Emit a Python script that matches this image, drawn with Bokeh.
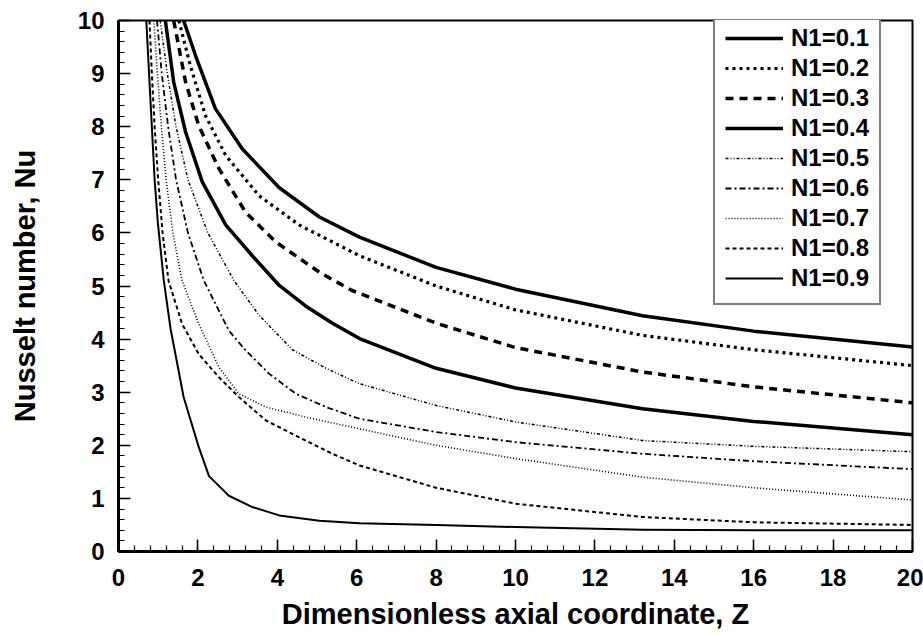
from bokeh.plotting import figure
from bokeh.embed import file_html
from bokeh.resources import INLINE
from bokeh.models import Range1d, FixedTicker, Legend, LegendItem

# ---- data ----
z_01 = [1.64, 1.94, 2.44, 3.12, 4.05, 5.06, 6.07, 8.0, 10.0, 13.2, 16.0, 20.0]
nu_01 = [10.0, 9.34, 8.34, 7.58, 6.85, 6.30, 5.92, 5.35, 4.94, 4.44, 4.15, 3.85]

z_02 = [1.52, 1.81, 2.19, 2.70, 3.54, 4.55, 6.07, 8.0, 10.0, 13.2, 16.0, 20.0]
nu_02 = [10.0, 9.15, 8.21, 7.46, 6.70, 6.15, 5.57, 5.00, 4.55, 4.07, 3.80, 3.50]

z_03 = [1.39, 1.69, 2.02, 2.53, 3.20, 3.96, 5.06, 5.87, 8.0, 10.0, 13.2, 16.0, 20.0]
nu_03 = [10.0, 8.84, 8.02, 7.21, 6.39, 5.83, 5.26, 4.92, 4.30, 3.84, 3.38, 3.10, 2.80]

z_04 = [1.18, 1.39, 1.69, 2.11, 2.70, 3.37, 4.05, 4.72, 5.39, 6.07, 8.0, 10.0, 13.2, 16.0, 20.0]
nu_04 = [10.0, 8.84, 7.90, 6.96, 6.15, 5.57, 5.01, 4.62, 4.30, 4.01, 3.45, 3.08, 2.69, 2.45, 2.20]

z_05 = [1.05, 1.23, 1.45, 1.75, 2.25, 2.91, 3.54, 4.38, 5.23, 6.07, 8.0, 10.0, 13.2, 16.0, 20.0]
nu_05 = [10.0, 9.0, 8.0, 7.0, 6.0, 5.10, 4.45, 3.80, 3.45, 3.16, 2.75, 2.44, 2.09, 1.98, 1.88]

z_06 = [0.97, 1.09, 1.25, 1.45, 1.75, 2.15, 2.78, 3.20, 3.79, 4.47, 5.23, 6.07, 8.0, 10.0, 13.2, 16.0, 20.0]
nu_06 = [10.0, 9.0, 8.0, 7.0, 6.0, 5.10, 4.16, 3.79, 3.35, 2.97, 2.72, 2.50, 2.25, 2.06, 1.84, 1.70, 1.55]

z_07 = [0.89, 0.98, 1.08, 1.20, 1.37, 1.60, 2.02, 2.53, 3.03, 3.71, 4.72, 6.07, 8.0, 10.0, 13.2, 16.0, 20.0]
nu_07 = [10.0, 9.0, 8.0, 7.0, 6.0, 5.10, 4.29, 3.47, 2.97, 2.72, 2.53, 2.31, 2.00, 1.75, 1.40, 1.20, 0.97]

z_08 = [0.78, 0.84, 0.91, 1.00, 1.11, 1.26, 1.60, 2.02, 2.53, 3.03, 3.71, 4.55, 5.39, 6.07, 8.0, 10.0, 13.2, 16.0, 20.0]
nu_08 = [10.0, 9.0, 8.0, 7.0, 6.0, 5.10, 4.29, 3.72, 3.28, 2.91, 2.47, 2.15, 1.84, 1.62, 1.20, 0.90, 0.65, 0.55, 0.50]

z_09 = [0.70, 0.77, 0.84, 0.91, 0.99, 1.14, 1.31, 1.64, 2.02, 2.28, 2.78, 3.36, 4.05, 5.06, 6.07, 8.0, 10.0, 13.2, 16.0, 20.0]
nu_09 = [10.0, 9.0, 8.0, 7.0, 6.2, 5.11, 4.20, 2.91, 1.97, 1.42, 1.05, 0.84, 0.68, 0.58, 0.53, 0.50, 0.46, 0.41, 0.40, 0.40]

labels = ["N1=0.1", "N1=0.2", "N1=0.3", "N1=0.4", "N1=0.5",
          "N1=0.6", "N1=0.7", "N1=0.8", "N1=0.9"]
xs = [z_01, z_02, z_03, z_04, z_05, z_06, z_07, z_08, z_09]
ys = [nu_01, nu_02, nu_03, nu_04, nu_05, nu_06, nu_07, nu_08, nu_09]

x_ticks = [0, 2, 4, 6, 8, 10, 12, 14, 16, 18, 20]
y_ticks = [0, 1, 2, 3, 4, 5, 6, 7, 8, 9, 10]

# ---- styles ----
styles = [
    dict(line_width=3.5, line_dash="solid"),
    dict(line_width=3.2, line_dash="3 4"),
    dict(line_width=3.5, line_dash="8 6"),
    dict(line_width=3.5, line_dash="solid"),
    dict(line_width=1.5, line_dash="3 2 1 2 1 2"),
    dict(line_width=1.8, line_dash="6 3 2 3"),
    dict(line_width=1.6, line_dash="1 2"),
    dict(line_width=2.0, line_dash="4 3"),
    dict(line_width=2.0, line_dash="solid"),
]

FONT = "Liberation Sans"

p = figure(width=923, height=635, output_backend="svg", toolbar_location=None,
           x_range=Range1d(0, 20), y_range=Range1d(0, 10),
           min_border_left=118, min_border_right=11, min_border_top=20,
           min_border_bottom=84)
p.background_fill_color = "white"
p.border_fill_color = "white"
p.outline_line_color = "black"
p.outline_line_width = 2
p.xgrid.visible = False
p.ygrid.visible = False

renderers = []
for x, y, st in zip(xs, ys, styles):
    r = p.line(x, y, line_color="black", line_join="round", **st)
    renderers.append(r)

p.xaxis.ticker = FixedTicker(ticks=x_ticks, minor_ticks=[i * 0.4 for i in range(51)])
p.yaxis.ticker = FixedTicker(ticks=y_ticks, minor_ticks=[i * 0.2 for i in range(51)])

for ax in (p.xaxis[0], p.yaxis[0]):
    ax.axis_line_width = 3
    ax.axis_line_color = "black"
    ax.major_tick_in = 12
    ax.major_tick_out = 0
    ax.minor_tick_in = 6
    ax.minor_tick_out = 0
    ax.major_tick_line_width = 1.5
    ax.minor_tick_line_width = 1.2
    ax.major_label_text_font = FONT
    ax.major_label_text_font_style = "bold"
    ax.major_label_text_font_size = "24px"
    ax.major_label_text_color = "black"
    ax.axis_label_text_font = FONT
    ax.axis_label_text_font_style = "bold"
    ax.axis_label_text_font_size = "29px"
    ax.axis_label_text_color = "black"

p.xaxis.axis_label = "Dimensionless axial coordinate, Z"
p.yaxis.axis_label = "Nusselt number, Nu"
p.xaxis.major_label_standoff = 17
p.yaxis.major_label_standoff = 14
p.xaxis.axis_label_standoff = 9
p.yaxis.axis_label_standoff = 34

items = [LegendItem(label=l, renderers=[r]) for l, r in zip(labels, renderers)]
legend = Legend(items=items, location=(595, 246))
legend.label_text_font = FONT
legend.label_text_font_style = "bold"
legend.label_text_font_size = "24px"
legend.label_text_color = "black"
legend.glyph_width = 58
legend.glyph_height = 30
legend.label_height = 30
legend.label_standoff = 8
legend.spacing = 0
legend.padding = 10
legend.margin = 0
legend.border_line_color = "black"
legend.border_line_width = 2
legend.background_fill_alpha = 1
p.add_layout(legend, "center")

open("out.html", "w").write(file_html(p, INLINE))
